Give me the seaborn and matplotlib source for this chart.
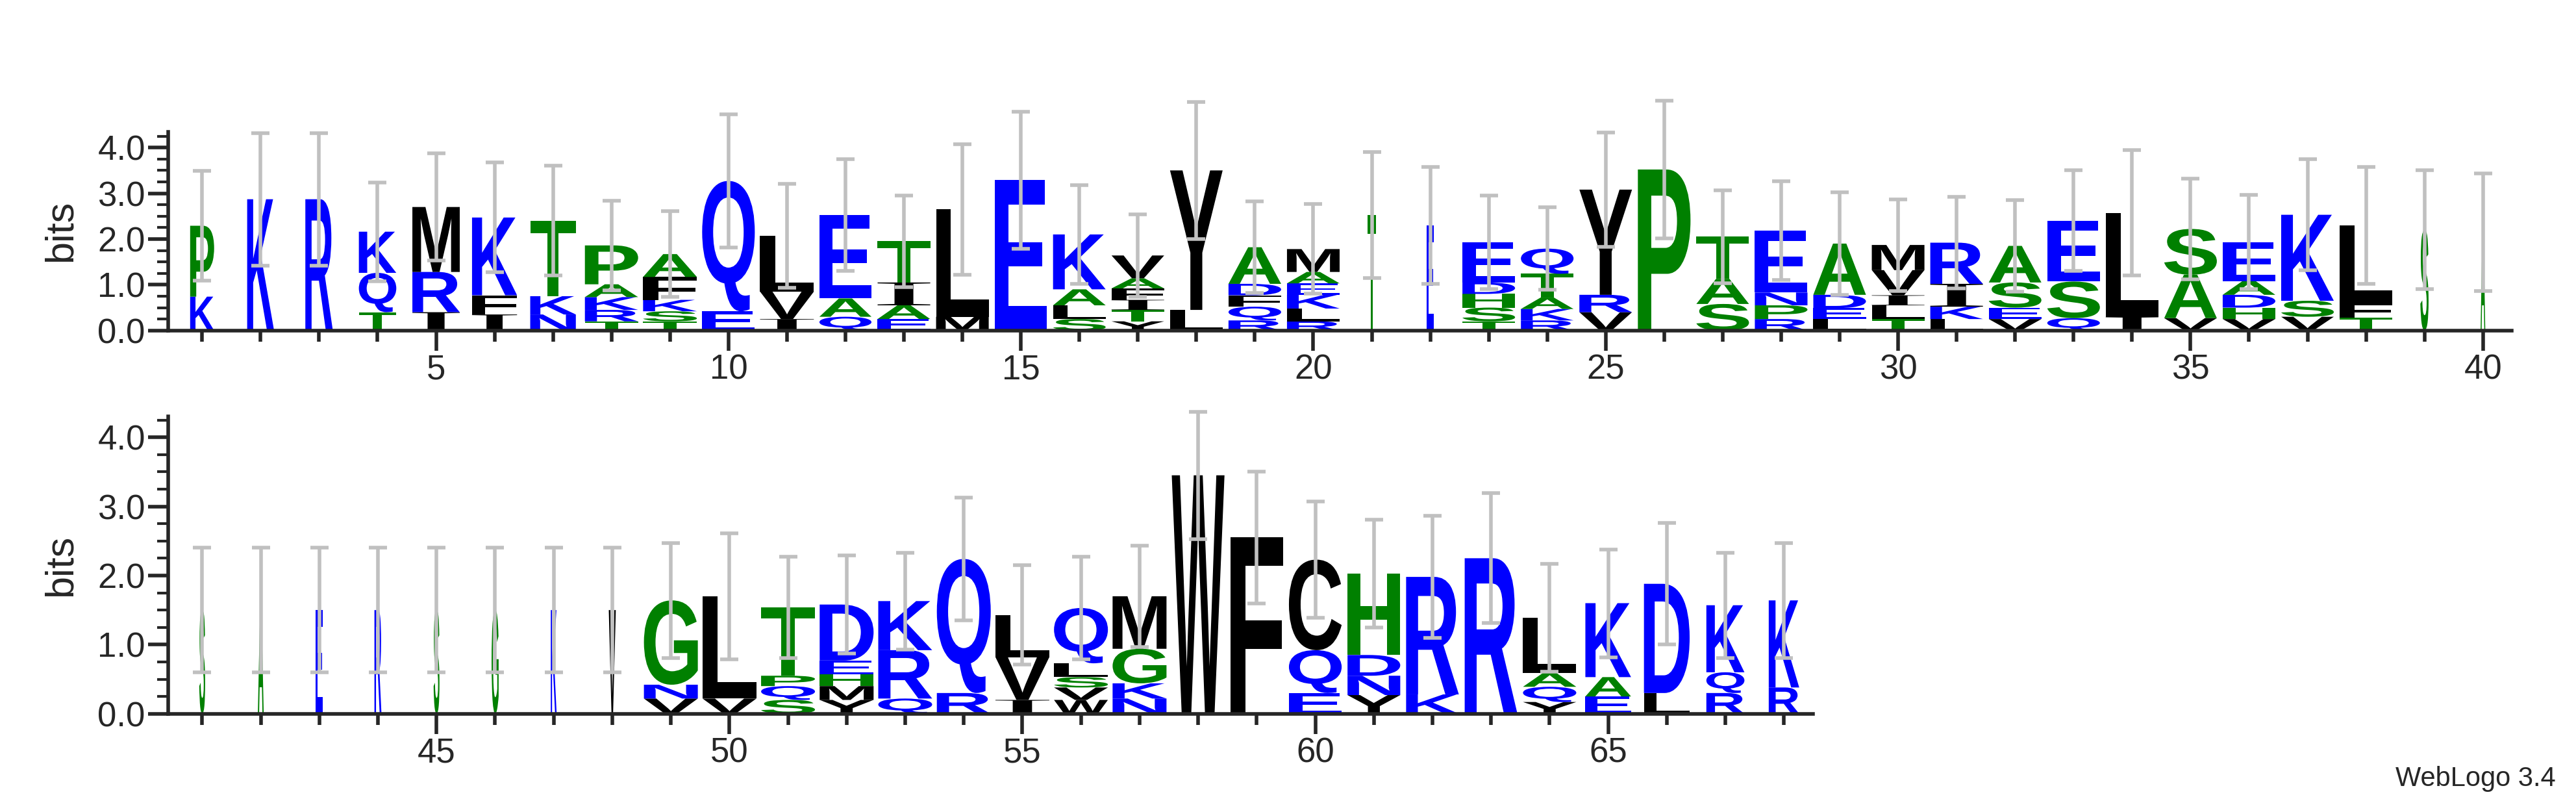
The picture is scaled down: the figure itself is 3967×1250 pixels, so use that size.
import matplotlib
matplotlib.use("Agg")
import matplotlib.pyplot as plt
import seaborn as sns
from matplotlib.textpath import TextPath
from matplotlib.patches import PathPatch
from matplotlib.font_manager import FontProperties
from matplotlib.transforms import Affine2D
from matplotlib.ticker import MultipleLocator

sns.set_style("ticks")
plt.rcParams['font.family'] = ['Liberation Sans', 'DejaVu Sans']

# stacks, bottom -> top
letters = ["KP", "K", "R", "TQK", "IRM", "IFK", "NKT", "TRKAP", "TSKFA", "EQ",
           "IVL", "QAE", "EAIT", "ML", "E", "SLAK", "YTIFAV", "LY", "RQFDA", "RLKEAM",
           "T", "E", "TSHDE", "RKATQ", "VRY", "P", "SAT", "RPNE", "LEDA", "TLIVM",
           "LKIR", "VESA", "QSE", "IL", "VAS", "VHDAE", "VSK", "TFL", "S", "A",
           "S", "A", "E", "R", "S", "G", "K", "V", "VNG", "VL",
           "SQPT", "YMHED", "QRK", "RQ", "IVL", "WVSLQ", "NKGM", "W", "F", "EQC",
           "YNDH", "KR", "R", "YQAL", "EAK", "LD", "RQK", "RK"]
heights = [[.74, 1.55], [2.87], [2.87], [.4, .86, .9], [.4, .88, 1.42],
           [.35, .42, 1.7], [.35, .4, 1.65], [.2, .25, .28, .28, .85],
           [.2, .22, .25, .5, .5], [.42, 2.85],
           [.25, .6, 1.22], [.3, .4, 1.82], [.25, .3, .5, .9], [.3, 2.35], [3.29],
           [.25, .3, .35, 1.2], [.2, .25, .22, .25, .22, .5], [.45, 3.05],
           [.22, .3, .25, .25, .8], [.2, .28, .3, .25, .25, .5],
           [2.52], [2.3], [.2, .3, .3, .25, .88], [.22, .25, .25, .52, .55],
           [.4, .38, 2.3], [3.52], [.58, .55, .92], [.25, .3, .28, 1.35],
           [.25, .24, .29, 1.12], [.25, .3, .22, .55, .55],
           [.25, .27, .5, .9], [.25, .25, .55, .8], [.27, .8, 1.33], [.3, 2.27],
           [.27, .95, 1.0], [.25, .25, .28, .3, .85], [.3, .35, 1.88],
           [.28, .32, 1.7], [2.2], [2.15],
           [1.5], [1.5], [1.5], [1.5], [1.5], [1.5], [1.5], [1.5],
           [.22, .2, 1.22], [.22, 1.48],
           [.2, .2, .15, .99], [.2, .2, .17, .2, .81], [.22, .7, .71], [.3, 1.94],
           [.2, .62, .61], [.2, .18, .15, .2, .8], [.22, .22, .5, .76], [3.45],
           [2.55], [.3, .62, 1.31],
           [.27, .28, .3, 1.18], [.28, 1.7], [2.25], [.17, .22, .2, .8],
           [.25, .28, 1.07], [.3, 1.58], [.3, .3, .97], [.38, 1.26]]
widths = [.41, .46, .47, .64, .81, .77, .78, .91, .92, .9,
          .92, .89, .9, .9, .89, .9, .9, .9, .9, .9,
          .15, .12, .9, .9, .9, .9, .9, .9, .9, .9,
          .9, .9, .9, .9, .9, .9, .9, .9, .14, .08,
          .1, .1, .12, .12, .1, .12, .1, .12, .92, .92,
          .92, .92, .92, .92, .92, .92, .92, .9, .9, .9,
          .9, .9, .9, .91, .78, .78, .65, .52]
errors = [1.2, 1.45, 1.45, 1.08, 1.17, 1.2, 1.2, .98, .94, 1.45,
          1.14, 1.22, 1.0, 1.43, 1.5, 1.08, .9, 1.5, 1.0, .98,
          1.38, 1.28, 1.02, .9, 1.25, 1.5, 1.02, 1.08, 1.12, 1.0,
          1.0, 1.0, 1.1, 1.37, 1.1, 1.03, 1.21, 1.28, 1.3, 1.28,
          .9, .9, .9, .9, .9, .9, .9, .9, .83, .91,
          .73, .71, .7, .89, .72, .74, .73, .92, .95, .84,
          .78, .88, .94, .78, .78, .88, .76, .83]

BLUE, GREEN, BLACK = "#0000FF", "#008000", "#000000"
colors = {}
for aa in "RKDENQ":
    colors[aa] = BLUE
for aa in "SGHTAP":
    colors[aa] = GREEN
for aa in "YVMCLFIW":
    colors[aa] = BLACK

fp = FontProperties(family="Liberation Sans", weight="bold")
fp_serif = FontProperties(family="Liberation Serif", weight="normal")


def draw_letter(ax, ch, x, y, w, h):
    tp = TextPath((0, 0), ch, size=1, prop=fp_serif if ch == "I" else fp)
    ext = tp.get_extents()
    tr = (Affine2D().translate(-ext.x0, -ext.y0)
          .scale(w / ext.width, h / ext.height)
          .translate(x - w / 2, y))
    ax.add_patch(PathPatch(tr.transform_path(tp), facecolor=colors[ch],
                           edgecolor="none"))


fig = plt.figure(figsize=(39.67, 12.5), dpi=100)
ax_top = fig.add_axes([0.0653, 0.593, 0.9097, 0.245])
ax_bot = fig.add_axes([0.0653, 0.121, 0.9097 * (68.49 - 40.42) / (40.42 - 0.42), 0.366])

for ax, first, last, ylim in [(ax_top, 1, 40, 4.35), (ax_bot, 41, 68, 4.3)]:
    for pos in range(first, last + 1):
        i = pos - 1
        y = 0
        for ch, h in zip(letters[i], heights[i]):
            draw_letter(ax, ch, pos, y, widths[i], h)
            y += h
        ax.errorbar(pos, y, yerr=errors[i], color="#C0C0C0", lw=4,
                    capsize=10, capthick=4, clip_on=False, zorder=3)
    ax.set_xlim(first - 0.58, last + 0.49)
    ax.set_ylim(0, ylim)
    ax.set_ylabel("bits", fontsize=44, labelpad=20)
    ax.yaxis.set_minor_locator(MultipleLocator(0.25))
    ax.set_yticks([0, 1, 2, 3, 4])
    ax.set_yticklabels(["0.0", "1.0", "2.0", "3.0", "4.0"])
    major = [p for p in range(first, last + 1) if p % 5 == 0]
    minor = [p for p in range(first, last + 1) if p % 5 != 0]
    ax.set_xticks(major)
    ax.set_xticks(minor, minor=True)
    ax.tick_params(axis="both", which="major", labelsize=38, width=4, length=22)
    ax.tick_params(axis="x", which="minor", width=4, length=12)
    ax.tick_params(axis="y", which="minor", width=3, length=12)
    for s in ("left", "bottom"):
        ax.spines[s].set_linewidth(4)
    sns.despine(ax=ax)

fig.text(0.992, 0.025, "WebLogo 3.4", ha="right", va="bottom", fontsize=30)
fig.savefig("out.png", dpi=100)
